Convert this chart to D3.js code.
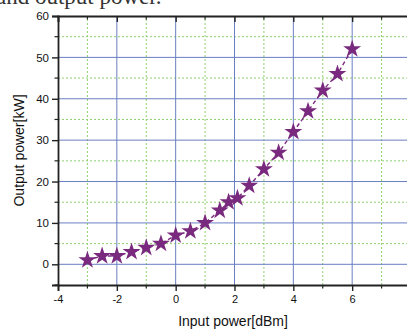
<!DOCTYPE html>
<html>
<head>
<meta charset="utf-8">
<script src="https://cdn.jsdelivr.net/npm/d3@7"></script>
<style>
  html, body { margin: 0; padding: 0; background: #fff; overflow: hidden; }
  svg { display: block; }
</style>
</head>
<body>
<div id="chart"></div>
<script>
const inputPower = [-3, -2.5, -2, -1.5, -1, -0.5, 0, 0.5, 1, 1.5, 1.8, 2.1, 2.5, 3, 3.5, 4, 4.5, 5, 5.5, 6]
const outputPower = [1, 2, 2, 3, 4, 5, 7, 8, 10, 13, 15, 16, 19, 23, 27, 32, 37, 42, 46, 52]
const xMajorTicks = [-4, -2, 0, 2, 4, 6]
const xMinorTicks = [-3, -1, 1, 3, 5, 7]
const yMajorTicks = [0, 10, 20, 30, 40, 50, 60]
const yMinorTicks = [-5, 5, 15, 25, 35, 45, 55]

const width = 407
const height = 332
const margin = { top: 16, right: -4, bottom: 47, left: 58 }

const svg = d3.select('#chart')
  .append('svg')
  .attr('width', width)
  .attr('height', height)
  .style('font-family', 'Liberation Sans, Arial, sans-serif')

// caption fragment cut off at the top of the picture
svg.append('text')
  .attr('x', -4)
  .attr('y', 4)
  .attr('font-family', 'Liberation Serif, Times New Roman, serif')
  .attr('font-size', 23)
  .attr('fill', '#333')
  .text('and output power.')

const x = d3.scaleLinear().domain([-4, 8]).range([margin.left, width - margin.right])
const y = d3.scaleLinear().domain([-5, 60]).range([height - margin.bottom, margin.top])

const grid = svg.append('g')

// minor grid: green dotted
grid.selectAll('.vminor').data(xMinorTicks).join('line')
  .attr('x1', d => x(d)).attr('x2', d => x(d))
  .attr('y1', y(-5)).attr('y2', y(60))
  .attr('stroke', '#8fd16f').attr('stroke-width', 1).attr('stroke-dasharray', '2,2')
grid.selectAll('.hminor').data(yMinorTicks.filter(d => d > -5)).join('line')
  .attr('x1', x(-4)).attr('x2', x(8))
  .attr('y1', d => y(d)).attr('y2', d => y(d))
  .attr('stroke', '#8fd16f').attr('stroke-width', 1).attr('stroke-dasharray', '2,2')

// major grid: blue solid
grid.selectAll('.vmajor').data(xMajorTicks.filter(d => d > -4)).join('line')
  .attr('x1', d => x(d)).attr('x2', d => x(d))
  .attr('y1', y(-5)).attr('y2', y(60))
  .attr('stroke', '#6a7fc2').attr('stroke-width', 1)
grid.selectAll('.hmajor').data(yMajorTicks.filter(d => d < 60)).join('line')
  .attr('x1', x(-4)).attr('x2', x(8))
  .attr('y1', d => y(d)).attr('y2', d => y(d))
  .attr('stroke', '#6a7fc2').attr('stroke-width', 1)

// axes
const axisColor = '#222'
const bottomAxis = svg.append('g')
  .attr('transform', `translate(0,${y(-5)})`)
  .call(d3.axisBottom(x).tickValues(xMajorTicks).tickSize(6).tickPadding(4).tickFormat(d => String(d)))
bottomAxis.selectAll('.minor').data(xMinorTicks).join('line')
  .attr('class', 'minor')
  .attr('x1', d => x(d)).attr('x2', d => x(d))
  .attr('y1', 0).attr('y2', 3.5)
  .attr('stroke', axisColor).attr('stroke-width', 1.2)

const leftAxis = svg.append('g')
  .attr('transform', `translate(${x(-4)},0)`)
  .call(d3.axisLeft(y).tickValues(yMajorTicks).tickSize(6).tickPadding(3).tickFormat(d => String(d)))
leftAxis.selectAll('.minor').data(yMinorTicks).join('line')
  .attr('class', 'minor')
  .attr('x1', 0).attr('x2', -3.5)
  .attr('y1', d => y(d)).attr('y2', d => y(d))
  .attr('stroke', axisColor).attr('stroke-width', 1.2)

const topAxis = svg.append('g')
  .attr('transform', `translate(0,${y(60)})`)
  .call(d3.axisTop(x).tickValues(xMajorTicks).tickSize(-6).tickFormat(''))
topAxis.selectAll('.minor').data(xMinorTicks).join('line')
  .attr('class', 'minor')
  .attr('x1', d => x(d)).attr('x2', d => x(d))
  .attr('y1', 0).attr('y2', 3.5)
  .attr('stroke', axisColor).attr('stroke-width', 1.2)

;[bottomAxis, leftAxis, topAxis].forEach(g => {
  g.select('.domain').attr('stroke', axisColor).attr('stroke-width', 1.8)
  g.selectAll('.tick line').attr('stroke', axisColor).attr('stroke-width', 1.4)
  g.selectAll('.tick text').attr('fill', '#111').attr('font-size', 11.5)
    .style('font-family', 'Liberation Sans, Arial, sans-serif')
})
bottomAxis.selectAll('.tick text').attr('font-size', 11)

// axis titles
svg.append('text')
  .attr('x', x(1.95))
  .attr('y', 326)
  .attr('text-anchor', 'middle')
  .attr('font-size', 14)
  .attr('fill', '#111')
  .text('Input power[dBm]')

svg.append('text')
  .attr('transform', `translate(24,${y(27.5)}) rotate(-90)`)
  .attr('text-anchor', 'middle')
  .attr('font-size', 14)
  .attr('fill', '#111')
  .text('Output power[kW]')

// series
const points = inputPower.map((v, i) => [v, outputPower[i]])
const purple = '#7a2a7e'

svg.append('path')
  .datum(points)
  .attr('d', d3.line().x(d => x(d[0])).y(d => y(d[1])))
  .attr('fill', 'none')
  .attr('stroke', purple)
  .attr('stroke-width', 1.4)
  .attr('stroke-dasharray', '4,3')

svg.selectAll('.star').data(points).join('path')
  .attr('class', 'star')
  .attr('transform', d => `translate(${x(d[0])},${y(d[1])})`)
  .attr('d', d3.symbol().type(d3.symbolStar).size(100))
  .attr('fill', purple)
</script>
</body>
</html>
